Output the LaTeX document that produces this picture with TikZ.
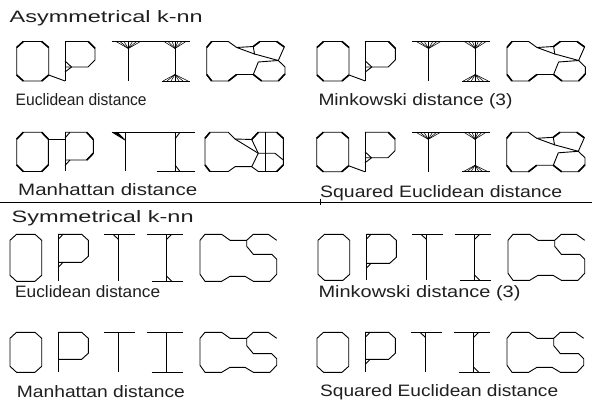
\documentclass[tikz,border=0pt]{standalone}
\usepackage{fontspec}
\setmainfont{Liberation Sans}
\usepackage{graphicx}
\tikzset{
  glyph/.style={draw=black, line width=0.9pt, line join=miter},
  sliver/.style={draw=black, line width=1.6pt},
  fanline/.style={draw=black, line width=0.55pt},
  lbl/.style={inner sep=0pt, anchor=base west, font=\fontsize{16.5}{19}\selectfont, text=black!88},
}
\newcommand{\fitw}[2]{\resizebox{#1}{\height}{#2}}
% asymmetrical word (Euclidean type), drawn in row-1 coordinates
\newcommand{\asymEword}{%
  \draw[glyph] (16.7,47.5)--(23.3,41.5)--(41.7,41.5)--(48.7,47.5)--(48.7,75)--(41.7,81)--(23.3,81)--(16.7,75)--cycle;
  \draw[sliver] (16.7,47.5)--(23.3,41.5) (41.7,41.5)--(48.7,47.5) (41.7,81)--(48.7,75) (23.3,81)--(16.7,75);
  \draw[glyph] (48.7,75)--(65,81);
  \draw[glyph] (65,41.5)--(65,81);
  \draw[glyph] (65,41.5)--(88.3,41.5)--(95,48.3)--(95,60)--(88,67)--(65,67);
  \draw[sliver] (88.3,41.5)--(95,48.3);
  \draw[glyph] (65,61)--(71.5,67)--(65,72);
  \draw[glyph] (111.7,41.5)--(190,41.5);
  \draw[glyph] (128.3,41.5)--(128.3,81);
  \foreach \u in {116,120,124,128.3,132.5,136.5,140.5} \draw[fanline] (128.3,48.5)--(\u,41.5);
  \draw[glyph] (175,41.5)--(175,81);
  \foreach \u in {164,168,172,175,178,182,186} \draw[fanline] (175,48.5)--(\u,41.5);
  \draw[glyph] (161.7,81)--(190,81);
  \foreach \u in {163,167,171,175,179,183,188} \draw[fanline] (175,74.5)--(\u,81);
  \draw[glyph] (236.7,47.5)--(228.3,41.5)--(211.7,41.5)--(206.7,47.5)--(206.7,74.5)--(211.7,81)--(228.3,81)--(236.7,74.5)--(253.3,74.5)--(261.7,81)--(278.3,81)--(285,74)--(285,67)--(278.3,60.5)--(284.3,47)--(276.7,41.5)--(260,41.5)--(253.3,46.5)--cycle;
  \draw[sliver] (211.7,41.5)--(206.7,47.5) (206.7,74.5)--(211.7,81) (228.3,81)--(236.7,74.5) (260,41.5)--(253.3,46.5) (276.7,41.5)--(284.3,47) (261.7,81)--(253.3,74.5) (278.3,81)--(285,74);
  \draw[glyph] (236.7,47.5)--(254.5,54)--(253.3,46.5);
  \draw[glyph] (254.5,54)--(278.3,60.5);
  \draw[glyph] (253.3,74.5)--(258.3,62)--(278.3,60.5);
}
% symmetrical word: #1 x, #2 y, #3 height, #4 bowl bottom, #5 S middle
\newcommand{\symword}[5]{%
  \begin{scope}[shift={(#1,#2)}]
  \draw[glyph] (0,6)--(6.5,0)--(25,0)--(31.7,6)--(31.7,#3-6)--(25,#3)--(6.5,#3)--(0,#3-6)--cycle;
  \draw[glyph] (48.3,0)--(48.3,#3);
  \draw[glyph] (48.3,0)--(71.7,0)--(78.3,6)--(78.3,#4-6)--(71.7,#4)--(48.3,#4);
  \draw[glyph] (94.3,0)--(125,0) (108.3,0)--(108.3,#3);
  \draw[glyph] (136.7,0)--(172.7,0) (156.7,0)--(156.7,#3) (141.7,#3)--(172.7,#3);
  \draw[glyph] (266.7,6)--(258.3,0)--(243.3,0)--(236.7,6)--(236.7,#5-8)--(243.3,#5)--(261.7,#5)--(266.7,#5+5)--(266.7,#3-7)--(260,#3)--(243.3,#3)--(235,#3-5)--(220,#3-5)--(211.7,#3)--(195,#3)--(190,#3-7)--(190,6)--(195,0)--(211.7,0)--(220,6)--(236.7,6);
  \end{scope}}
\newcommand{\symmarks}[4]{%
  \begin{scope}[shift={(#1,#2)}]
  \draw[glyph] (48.3,5)--(53,0) (48.3,#4+5)--(53,#4);
  \draw[glyph] (103,0)--(108.3,5);
  \draw[glyph] (156.7,5)--(161.7,0) (156.7,#3-5)--(161.7,#3);
  \end{scope}}
\begin{document}
\begin{tikzpicture}[x=1pt,y=-1pt]
\useasboundingbox (0,0) rectangle (601,403);
\fill[white] (0,0) rectangle (601,403);
% headings
\node[lbl] (h1) at (9.5,23) {\fitw{193pt}{Asymmetrical k-nn}};
\node[lbl] (h2) at (11.5,222) {\fitw{182pt}{Symmetrical k-nn}};
% labels
\node[lbl] (l1) at (15.5,105.5) {\fitw{131pt}{Euclidean distance}};
\node[lbl] (l2) at (318.3,106) {\fitw{194pt}{Minkowski distance (3)}};
\node[lbl] (l3) at (18,196) {\fitw{179pt}{Manhattan distance}};
\node[lbl] (l4) at (320,197) {\fitw{242pt}{Squared Euclidean distance}};
\node[lbl] (l5) at (15,297) {\fitw{145pt}{Euclidean distance}};
\node[lbl] (l6) at (318.3,297) {\fitw{202pt}{Minkowski distance (3)}};
\node[lbl] (l7) at (16.7,397) {\fitw{168pt}{Manhattan distance}};
\node[lbl] (l8) at (320,396.5) {\fitw{238pt}{Squared Euclidean distance}};
% separator
\draw[line width=1pt] (0,202.5)--(592,202.5);
\draw[line width=0.8pt] (320,198.5)--(320,204.5);
% asymmetrical words
\asymEword
\begin{scope}[shift={(300.3,0)}]\asymEword\end{scope}
\begin{scope}[shift={(300,90.8)}]\asymEword\end{scope}
% asymmetrical Manhattan
\draw[glyph] (16.7,139)--(23.3,132.3)--(41.7,132.3)--(48.3,139)--(48.3,165)--(41.7,171.5)--(23.3,171.5)--(16.7,165)--cycle;
\draw[sliver] (16.7,139)--(23.3,132.3) (41.7,132.3)--(48.3,139) (48.3,165)--(41.7,171.5) (23.3,171.5)--(16.7,165);
\draw[glyph] (48.3,139)--(65,139);
\draw[glyph] (65,132.3)--(65,171.5);
\draw[glyph] (65,132.3)--(86.7,132.3)--(93.3,139.5)--(93.3,153.3)--(86.7,160)--(65,160);
\draw[sliver] (86.7,132.3)--(93.3,139.5) (93.3,153.3)--(86.7,160);
\draw[glyph] (65,138)--(70,132.3) (65,165.5)--(70,160);
\draw[glyph] (111.7,132.3)--(195,132.3);
\draw[glyph] (125,132.3)--(125,171.5);
\fill[black] (112.5,132.3)--(118,132.3)--(125,139.5)--cycle;
\draw[glyph] (112.5,132.3)--(125,140);
\draw[glyph] (175,132.3)--(175,171.5);
\draw[glyph] (156.7,171.5)--(195,171.5);
\draw[glyph] (175,139)--(180,132.3) (175,165)--(180,171.5);
\draw[glyph] (235,139)--(228.3,132.3)--(210,132.3)--(205,138.3)--(205,165)--(210,171.5)--(228.3,171.5)--(235,166.7)--(251.7,166.7)--(258.3,171.5)--(276.7,171.5)--(283.3,165)--(283.3,138.3)--(276.7,132.3)--(258.3,132.3)--(251.7,139.5)--cycle;
\draw[sliver] (210,132.3)--(205,138.3) (205,165)--(210,171.5) (258.3,132.3)--(251.7,139.5) (276.7,132.3)--(283.3,138.3) (283.3,165)--(276.7,171.5);
\draw[glyph] (235,139)--(258.3,153.3);
\draw[glyph] (251.7,139.5)--(258.3,153.3)--(251.7,166.7);
\draw[glyph] (258.3,153.3)--(275,153.3)--(283.3,160);
\draw[glyph] (265,132.3)--(265,171.5);
% symmetrical words
\symword{10}{234.3}{47}{28}{20}
\symmarks{10}{234.3}{47}{28}
\symword{318}{234.3}{46}{29}{20}
\symmarks{318}{234.3}{46}{29}
\symword{10}{332.3}{40}{27}{21.3}
\symword{317}{332.3}{40}{27}{21.3}
\symmarks{317}{332.3}{40}{27}
\end{tikzpicture}
\end{document}
